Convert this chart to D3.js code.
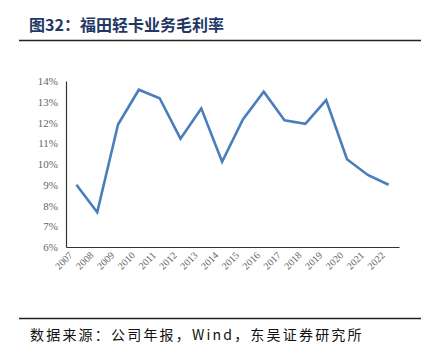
<!DOCTYPE html>
<html>
<head>
<meta charset="utf-8">
<script src="https://cdn.jsdelivr.net/npm/d3@7"></script>
<style>
  body { margin: 0; background: #fff; }
  svg { display: block; }
</style>
</head>
<body>
<script>
const years = ['2007','2008','2009','2010','2011','2012','2013','2014','2015','2016','2017','2018','2019','2020','2021','2022']
const margin_values = [9.0, 7.67, 11.9, 13.58, 13.17, 11.22, 12.68, 10.11, 12.15, 13.48, 12.11, 11.94, 13.08, 10.23, 9.47, 9.0]
const y_ticks = [6, 7, 8, 9, 10, 11, 12, 13, 14]

const width = 432, height = 354
const plot = {left: 66, right: 399, top: 81, bottom: 247}

const svg = d3.select('body').append('svg')
    .attr('width', width)
    .attr('height', height)

// title + rules
svg.append('text')
  .attr('x', 29)
  .attr('y', 31)
  .attr('font-family', '"Noto Sans CJK SC", sans-serif')
  .attr('font-weight', 'bold')
  .attr('font-size', 16)
  .attr('fill', '#1f3864')
  .text('图32：福田轻卡业务毛利率')

svg.append('line')
  .attr('x1', 19).attr('x2', 421)
  .attr('y1', 40.5).attr('y2', 40.5)
  .attr('stroke', '#222').attr('stroke-width', 1.3)

svg.append('line')
  .attr('x1', 19).attr('x2', 421)
  .attr('y1', 318.5).attr('y2', 318.5)
  .attr('stroke', '#222').attr('stroke-width', 1.3)

svg.append('text')
  .attr('x', 30)
  .attr('y', 340)
  .attr('font-family', '"Noto Sans CJK SC", "Liberation Serif", serif')
  .attr('font-size', 14)
  .attr('letter-spacing', 2.2)
  .attr('fill', '#111')
  .text('数据来源：公司年报，Wind，东吴证券研究所')

const x = d3.scaleBand()
  .domain(years)
  .range([plot.left, plot.right])
  .paddingInner(0)
  .paddingOuter(0)

const y = d3.scaleLinear()
  .domain([6, 14])
  .range([plot.bottom, plot.top])

const cx = d => x(d) + x.bandwidth() / 2

// y axis
const yAxis = g => g
  .attr('transform', `translate(${plot.left},0)`)
  .call(d3.axisLeft(y).tickValues(y_ticks).tickSize(0).tickPadding(8).tickFormat(d => d + '%'))
  .call(g => g.select('.domain').attr('stroke', '#333').attr('stroke-width', 1.2))
  .call(g => g.selectAll('text')
    .attr('font-family', '"Liberation Serif", serif')
    .attr('font-size', 11)
    .attr('fill', '#666'))

const xAxis = g => g
  .attr('transform', `translate(0,${plot.bottom})`)
  .call(d3.axisBottom(x).tickSize(0).tickPadding(0))
  .call(g => g.select('.domain').attr('stroke', '#333').attr('stroke-width', 1.2))
  .call(g => g.selectAll('text')
    .attr('font-family', '"Liberation Serif", serif')
    .attr('font-size', 10)
    .attr('fill', '#666')
    .attr('text-anchor', 'end')
    .attr('dy', 0)
    .attr('transform', 'translate(-3,9) rotate(-45)'))

svg.append('g').call(yAxis)
svg.append('g').call(xAxis)

const line = d3.line()
  .x((d, i) => cx(years[i]))
  .y(d => y(d))

svg.append('path')
  .datum(margin_values)
  .attr('d', line)
  .attr('fill', 'none')
  .attr('stroke', '#4a7ebb')
  .attr('stroke-width', 2.6)
  .attr('stroke-linejoin', 'miter')
</script>
</body>
</html>
